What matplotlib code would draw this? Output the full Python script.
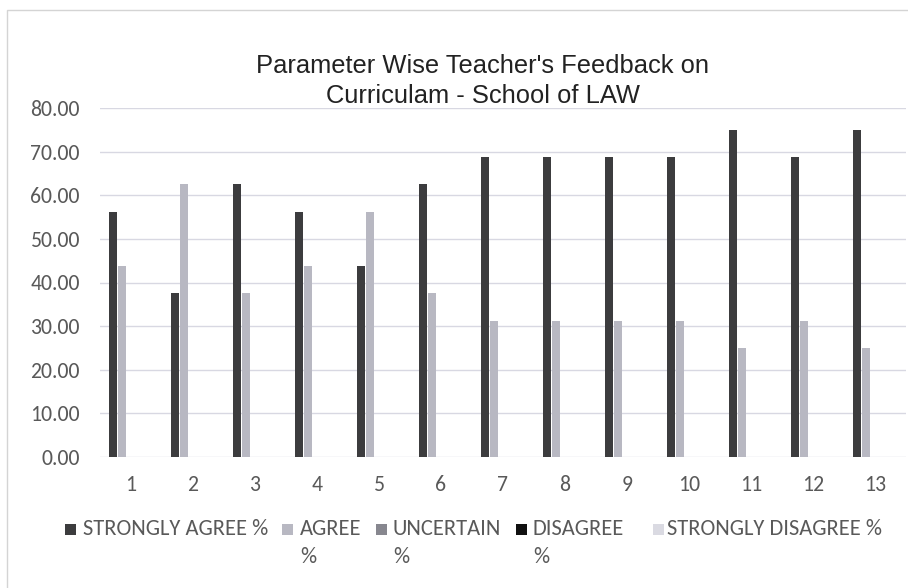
import matplotlib
matplotlib.use("Agg")
import matplotlib.pyplot as plt
import numpy as np
from matplotlib import font_manager
from matplotlib.patches import Rectangle

# ---------------- data ----------------
categories = [str(i) for i in range(1, 14)]
series_names = ["STRONGLY AGREE %", "AGREE %", "UNCERTAIN %", "DISAGREE %",
                "STRONGLY DISAGREE %"]
strongly_agree = [56.25, 37.50, 62.50, 56.25, 43.75, 62.50, 68.75, 68.75, 68.75,
                  68.75, 75.00, 68.75, 75.00]
agree = [43.75, 62.50, 37.50, 43.75, 56.25, 37.50, 31.25, 31.25, 31.25, 31.25,
         25.00, 31.25, 25.00]
uncertain = [0.0] * 13
disagree = [0.0] * 13
strongly_disagree = [0.0] * 13
y_ticks = [0, 10, 20, 30, 40, 50, 60, 70, 80]
title_lines = ["Parameter Wise Teacher's Feedback on", "Curriculam - School of LAW"]
# legend labels as Excel wraps them
legend_line1 = ["STRONGLY AGREE %", "AGREE", "UNCERTAIN", "DISAGREE", "STRONGLY DISAGREE %"]
legend_line2 = ["", "%", "%", "%", ""]

series_values = [strongly_agree, agree, uncertain, disagree, strongly_disagree]
colors = ["#3c3c3e", "#b8b8c2", "#87878f", "#111111", "#dadae2"]

# ---------------- fonts ----------------
avail = {f.name for f in font_manager.fontManager.ttflist}
body_font = next((f for f in ["Carlito", "Calibri", "Lato", "Open Sans"] if f in avail), "DejaVu Sans")
title_font = next((f for f in ["Liberation Sans", "Arial"] if f in avail), "DejaVu Sans")
text_color = "#595959"

W, H = 908, 588
fig = plt.figure(figsize=(W / 100, H / 100), dpi=100)
fig.patch.set_facecolor("white")


def px_x(x):
    return x / W


def px_y(y):
    return 1 - y / H


renderer = fig.canvas.get_renderer()


def fit_size(text, family, target_px, base=16.0):
    t = fig.text(0, 0, text, fontsize=base, family=family)
    w = t.get_window_extent(renderer).width
    t.remove()
    return base * target_px / w


tick_fs = fit_size("80.00", body_font, 50)
legend_fs = fit_size("STRONGLY AGREE %", body_font, 186)
title_fs = fit_size(title_lines[0], title_font, 453)

# ---------------- axes ----------------
ax = fig.add_axes([px_x(100), px_y(457), (906 - 100) / W, (457 - 108) / H])
x = np.arange(1, len(categories) + 1)
step = 0.147
width = 0.122
for i, (vals, c, name) in enumerate(zip(series_values, colors, series_names)):
    ax.bar(x + (i - 2) * step, vals, width=width, color=c, label=name, zorder=3)

ax.set_xlim(0.5, len(categories) + 0.5)
ax.set_ylim(0, 80)
ax.set_yticks(y_ticks)
ax.set_yticklabels([f"{v:.2f}" for v in y_ticks], family=body_font,
                   fontsize=tick_fs, color=text_color)
ax.set_xticks(x)
ax.set_xticklabels(categories, family=body_font, fontsize=tick_fs, color=text_color)
ax.tick_params(axis="both", length=0)
ax.tick_params(axis="y", pad=14.5)
ax.tick_params(axis="x", pad=13)
ax.grid(axis="y", color="#d8d8e2", linewidth=1.0, zorder=0)
ax.set_axisbelow(True)
for s in ax.spines.values():
    s.set_visible(False)

# ---------------- title ----------------
fig.text(px_x(483), px_y(73), title_lines[0], ha="center", va="baseline",
         family=title_font, fontsize=title_fs, color="#222222")
fig.text(px_x(483), px_y(103), title_lines[1], ha="center", va="baseline",
         family=title_font, fontsize=title_fs, color="#222222")

# ---------------- legend (wrapped like Excel) ----------------
marker_left = [65, 282, 376, 516, 653]
text_left = [83, 300, 393, 533, 667]
row1_y = 529
row2_y = 557
msize = 11
for ml, tl, c, l1, l2 in zip(marker_left, text_left, colors, legend_line1, legend_line2):
    fig.add_artist(Rectangle((px_x(ml), px_y(row1_y + msize / 2)), msize / W, msize / H,
                             transform=fig.transFigure, facecolor=c, edgecolor="none"))
    fig.text(px_x(tl), px_y(row1_y), l1, ha="left", va="center", family=body_font,
             fontsize=legend_fs, color=text_color)
    if l2:
        fig.text(px_x(tl), px_y(row2_y), l2, ha="left", va="center", family=body_font,
                 fontsize=legend_fs, color=text_color)

# chart border
fig.add_artist(Rectangle((px_x(7), -0.02), 1.0, px_y(10) + 0.02,
                         transform=fig.transFigure, fill=False,
                         edgecolor="#d4d4d4", linewidth=1.0))

fig.savefig("out.png", dpi=100, facecolor="white")
